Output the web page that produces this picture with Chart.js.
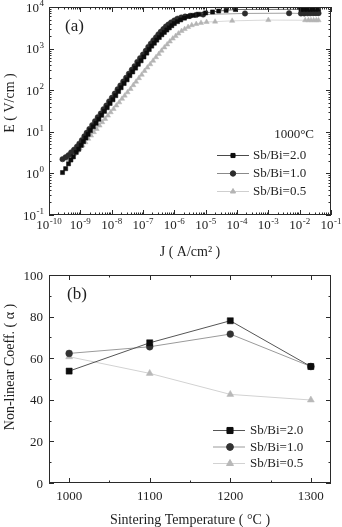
<!DOCTYPE html>
<html lang="en">
<head>
  <meta charset="UTF-8">
  <title>E-J and non-linear coefficient</title>
  <script src="https://cdn.jsdelivr.net/npm/chart.js"></script>
  <style>
    body { margin: 0; background: #fff; }
    #wrap { position: relative; width: 342px; height: 527px; }
    #chartA { position: absolute; left: 0; top: 0; }
    #chartB { position: absolute; left: 0; top: 262px; }
  </style>
</head>
<body>
<div id="wrap">
  <canvas id="chartA" width="342" height="262"></canvas>
  <canvas id="chartB" width="342" height="265"></canvas>
</div>

<script>
  // (a) E-J curves at 1000 C
  const j20 = [2.7e-10, 3.4e-10, 4.2e-10, 5.0e-10, 6.0e-10, 7.4e-10, 8.9e-10, 1.07e-9, 1.26e-9, 1.5e-9,
    1.78e-9, 2.1e-9, 2.6e-9, 3.2e-9, 3.9e-9, 4.8e-9, 5.9e-9, 7.2e-9, 8.9e-9, 1.1e-8,
    1.35e-8, 1.66e-8, 2.0e-8, 2.5e-8, 3.1e-8, 3.8e-8, 4.7e-8, 5.8e-8, 7.1e-8, 8.7e-8,
    1.07e-7, 1.32e-7, 1.58e-7, 1.9e-7, 2.3e-7, 2.75e-7, 3.3e-7, 4.0e-7, 4.8e-7, 5.75e-7,
    6.9e-7, 8.3e-7, 1.0e-6, 1.26e-6, 1.6e-6, 2.1e-6, 2.8e-6, 4.0e-6, 6.0e-6, 1.0e-5,
    1.66e-5, 2.6e-5, 4.5e-5, 8.9e-5, 1.1e-2, 1.4e-2, 1.8e-2, 2.2e-2, 2.7e-2, 3.3e-2, 4.0e-2];
  const e20 = [1.05, 1.3, 1.7, 2.1, 2.5, 3.2, 3.8, 4.7, 5.8, 7.1,
    8.7, 10.7, 13.2, 16, 20, 25, 31, 38, 48, 59,
    74, 93, 115, 145, 178, 224, 275, 340, 420, 510,
    630, 780, 950, 1150, 1350, 1600, 1850, 2150, 2450, 2800,
    3150, 3550, 4000, 4450, 4900, 5400, 5900, 6300, 6700, 7200,
    7600, 8000, 8300, 8700, 8800, 8800, 8850, 8850, 8900, 8900, 8900];

  const j10 = [2.7e-10, 3.4e-10, 4.2e-10, 5.1e-10, 6.3e-10, 7.8e-10, 9.3e-10, 1.12e-9, 1.35e-9, 1.6e-9,
    1.95e-9, 2.4e-9, 2.95e-9, 3.6e-9, 4.5e-9, 5.5e-9, 6.8e-9, 8.3e-9, 1.02e-8, 1.26e-8,
    1.55e-8, 1.9e-8, 2.35e-8, 2.9e-8, 3.55e-8, 4.4e-8, 5.4e-8, 6.6e-8, 8.1e-8, 1.0e-7,
    1.23e-7, 1.48e-7, 1.78e-7, 2.15e-7, 2.6e-7, 3.1e-7, 3.7e-7, 4.5e-7, 5.4e-7, 6.5e-7,
    7.9e-7, 1.0e-6, 1.26e-6, 1.66e-6, 2.2e-6, 3.2e-6, 5.0e-6, 8.3e-6, 1.8e-4, 4.6e-3,
    1.1e-2, 1.4e-2, 1.8e-2, 2.2e-2, 2.7e-2, 3.3e-2, 4.0e-2];
  const e10 = [2.2, 2.45, 2.75, 3.2, 3.7, 4.4, 5.2, 6.3, 7.8, 9.5,
    11.7, 14.5, 18, 22.4, 27.5, 35, 43, 54, 66, 83,
    105, 130, 162, 200, 250, 310, 380, 480, 590, 720,
    890, 1100, 1320, 1580, 1860, 2200, 2550, 2950, 3400, 3800,
    4250, 4750, 5250, 5600, 5900, 6150, 6450, 6600, 7000, 7100,
    7000, 7000, 7050, 7050, 7100, 7100, 7100];

  const j05 = [4.2e-10, 5.1e-10, 6.3e-10, 7.8e-10, 9.5e-10, 1.17e-9, 1.45e-9, 1.78e-9, 2.2e-9, 2.7e-9,
    3.3e-9, 4.1e-9, 5.0e-9, 6.2e-9, 7.6e-9, 9.3e-9, 1.15e-8, 1.41e-8, 1.74e-8, 2.14e-8,
    2.6e-8, 3.2e-8, 4.0e-8, 4.9e-8, 6.0e-8, 7.4e-8, 9.1e-8, 1.12e-7, 1.38e-7, 1.7e-7,
    2.1e-7, 2.6e-7, 3.2e-7, 3.9e-7, 4.8e-7, 5.9e-7, 7.2e-7, 8.9e-7, 1.1e-6, 1.35e-6,
    1.7e-6, 2.14e-6, 2.75e-6, 3.6e-6, 5.0e-6, 7.1e-6, 1.07e-5, 2.0e-5, 7.0e-5, 1.0e-3,
    1.5e-2, 1.9e-2, 2.3e-2, 2.8e-2, 3.4e-2, 4.0e-2];
  const e05 = [2.2, 2.5, 2.9, 3.4, 4.0, 4.7, 5.6, 6.8, 8.1, 9.8,
    11.7, 14.1, 17, 20.4, 24.5, 29.5, 35.5, 43, 51, 62,
    74, 89, 107, 132, 160, 195, 235, 290, 350, 420,
    510, 620, 740, 890, 1070, 1260, 1480, 1740, 2000, 2300,
    2650, 2950, 3300, 3650, 3900, 4150, 4350, 4450, 4650, 4850,
    4800, 4800, 4800, 4800, 4800, 4800];

  const xTickValues = [1e-10, 1e-9, 1e-8, 1e-7, 1e-6, 1e-5, 1e-4, 1e-3, 1e-2, 1e-1];
  const xTickLabels = ['10^-10', '10^-9', '10^-8', '10^-7', '10^-6', '10^-5', '10^-4', '10^-3', '10^-2', '10^-1'];
  const yTickValues = [1e-1, 1, 1e1, 1e2, 1e3, 1e4];
  const yTickLabels = ['10^-1', '10^0', '10^1', '10^2', '10^3', '10^4'];

  // (b) non-linear coefficient vs sintering temperature
  const temps = [1000, 1100, 1200, 1300];
  const tempLabels = ['1000', '1100', '1200', '1300'];
  const alphaTicks = [0, 20, 40, 60, 80, 100];
  const alphaLabels = ['0', '20', '40', '60', '80', '100'];
  const alpha20 = [53.8, 67.4, 78.0, 56.0];
  const alpha10 = [62.3, 65.5, 71.6, 56.0];
  const alpha05 = [60.7, 52.7, 42.6, 39.9];

  const seriesNames = ['Sb/Bi=2.0', 'Sb/Bi=1.0', 'Sb/Bi=0.5'];

  const serif = '"Liberation Serif", "Times New Roman", serif';
  const ink = '#1e1e1e';

  const pairs = (xs, ys) => xs.map((x, i) => ({x: x, y: ys[i]}));

  // inward ticks on all four sides plus the frame
  const framePlugin = {
    id: 'frame',
    afterDraw(chart, args, o) {
      const ctx = chart.ctx, a = chart.chartArea;
      const xs = chart.scales.x, ys = chart.scales.y;
      ctx.save();
      ctx.strokeStyle = '#2a2a2a';
      ctx.lineWidth = 1;
      ctx.strokeRect(Math.round(a.left) + 0.5, Math.round(a.top) + 0.5,
        Math.round(a.right - a.left) - 1, Math.round(a.bottom - a.top) - 1);
      ctx.beginPath();
      const hx = (v, len) => {
        const p = Math.round(xs.getPixelForValue(v)) + 0.5;
        ctx.moveTo(p, a.bottom); ctx.lineTo(p, a.bottom - len);
        ctx.moveTo(p, a.top); ctx.lineTo(p, a.top + len);
      };
      const vy = (v, len) => {
        const p = Math.round(ys.getPixelForValue(v)) + 0.5;
        ctx.moveTo(a.left, p); ctx.lineTo(a.left + len, p);
        ctx.moveTo(a.right, p); ctx.lineTo(a.right - len, p);
      };
      o.xMajor.forEach(v => hx(v, 5));
      o.xMinor.forEach(v => hx(v, 2.5));
      o.yMajor.forEach(v => vy(v, 5));
      o.yMinor.forEach(v => vy(v, 2.5));
      ctx.stroke();
      ctx.restore();
    }
  };

  // tick labels (with raised exponents) and axis titles
  const axisTextPlugin = {
    id: 'axisText',
    afterDraw(chart, args, o) {
      const ctx = chart.ctx, a = chart.chartArea;
      const xs = chart.scales.x, ys = chart.scales.y;
      const baseFont = o.size + 'px ' + serif;
      const expFont = Math.round(o.size * 0.68) + 'px ' + serif;
      const label = (txt, x, y, align) => {
        const parts = txt.split('^');
        ctx.font = baseFont;
        const wb = ctx.measureText(parts[0]).width;
        ctx.font = expFont;
        const we = parts[1] ? ctx.measureText(parts[1]).width + 0.5 : 0;
        const w = wb + we;
        const x0 = align === 'right' ? x - w : align === 'center' ? x - w / 2 : x;
        ctx.font = baseFont;
        ctx.fillText(parts[0], x0, y);
        if (parts[1]) {
          ctx.font = expFont;
          ctx.fillText(parts[1], x0 + wb + 0.5, y - o.size * 0.42);
        }
      };
      ctx.save();
      ctx.fillStyle = ink;
      ctx.textAlign = 'left';
      ctx.textBaseline = 'alphabetic';
      o.xTicks.forEach((v, i) => label(o.xLabels[i], xs.getPixelForValue(v), a.bottom + o.xGap, 'center'));
      o.yTicks.forEach((v, i) => label(o.yLabels[i], a.left - o.yGap, ys.getPixelForValue(v) + o.size * 0.35, 'right'));

      ctx.font = o.titleSize + 'px ' + serif;
      ctx.textAlign = 'center';
      ctx.textBaseline = 'middle';
      ctx.fillText(o.xTitle, (a.left + a.right) / 2, o.xTitleY);
      ctx.translate(o.yTitleX, o.yTitleY);
      ctx.rotate(-Math.PI / 2);
      ctx.fillText(o.yTitle, 0, 0);
      ctx.restore();
    }
  };

  // legend with a short line and marker, plus panel notes
  const notesPlugin = {
    id: 'notes',
    afterDraw(chart, args, o) {
      const ctx = chart.ctx;
      ctx.save();
      ctx.fillStyle = ink;
      ctx.textBaseline = 'middle';
      (o.texts || []).forEach(t => {
        ctx.font = t.font;
        ctx.textAlign = t.align || 'left';
        ctx.fillText(t.text, t.x, t.y);
      });
      chart.data.datasets.forEach((ds, i) => {
        const y = o.legendY + i * o.legendGap;
        ctx.strokeStyle = ds.borderColor;
        ctx.lineWidth = 1;
        ctx.beginPath();
        ctx.moveTo(o.lineX0, y + 0.5);
        ctx.lineTo(o.lineX1, y + 0.5);
        ctx.stroke();
        ctx.fillStyle = ds.pointBackgroundColor;
        ctx.strokeStyle = ds.pointBorderColor;
        Chart.helpers.drawPoint(ctx, {pointStyle: ds.pointStyle, radius: ds.pointRadius, rotation: 0, borderWidth: 1},
          o.markX, y + 0.5);
        ctx.fillStyle = ink;
        ctx.font = o.font;
        ctx.textAlign = 'left';
        ctx.fillText(ds.label, o.textX, y + 1);
      });
      ctx.restore();
    }
  };

  const logMinor = (lo, hi) => {
    const out = [];
    for (let d = lo; d < hi; d++) for (let k = 2; k <= 9; k++) out.push(k * Math.pow(10, d));
    return out;
  };

  const hiddenAxis = {grid: {display: false}, border: {display: false}, ticks: {display: false}, title: {display: false}};

  new Chart(document.getElementById('chartA'), {
    type: 'scatter',
    data: {
      datasets: [
        {label: seriesNames[0], data: pairs(j20, e20), showLine: true, borderColor: '#4a4a4a', borderWidth: 0.8,
          pointStyle: 'rect', pointRadius: 2.9, pointBackgroundColor: '#0d0d0d', pointBorderColor: '#0d0d0d', pointBorderWidth: 0.5},
        {label: seriesNames[1], data: pairs(j10, e10), showLine: true, borderColor: '#8a8a8a', borderWidth: 0.8,
          pointStyle: 'circle', pointRadius: 2.7, pointBackgroundColor: '#2c2c2c', pointBorderColor: '#2c2c2c', pointBorderWidth: 0.5},
        {label: seriesNames[2], data: pairs(j05, e05), showLine: true, borderColor: '#cfcfcf', borderWidth: 0.8,
          pointStyle: 'triangle', pointRadius: 3, pointBackgroundColor: '#b4b4b4', pointBorderColor: '#b4b4b4', pointBorderWidth: 0.5}
      ]
    },
    options: {
      responsive: false,
      animation: false,
      devicePixelRatio: 1,
      layout: {padding: {top: 7, right: 11, left: 0, bottom: 0}},
      plugins: {
        legend: {display: false},
        tooltip: {enabled: false},
        frame: {
          xMajor: xTickValues, xMinor: logMinor(-10, -1),
          yMajor: yTickValues, yMinor: logMinor(-1, 4)
        },
        axisText: {
          size: 13, titleSize: 14,
          xTicks: xTickValues, xLabels: xTickLabels, xGap: 14,
          yTicks: yTickValues, yLabels: yTickLabels, yGap: 5,
          xTitle: 'J ( A/cm² )', xTitleY: 252,
          yTitle: 'E ( V/cm )', yTitleX: 10, yTitleY: 103
        },
        notes: {
          texts: [
            {text: '(a)', x: 65, y: 27, font: '17px ' + serif},
            {text: '1000°C', x: 314, y: 135, font: '13px ' + serif, align: 'right'}
          ],
          legendY: 155, legendGap: 18, lineX0: 217, lineX1: 249, markX: 233, textX: 253,
          font: '13px ' + serif
        }
      },
      scales: {
        x: Object.assign({}, hiddenAxis, {
          type: 'logarithmic', min: 1e-10, max: 1e-1,
          afterFit: s => { s.height = 47; }
        }),
        y: Object.assign({}, hiddenAxis, {
          type: 'logarithmic', min: 1e-1, max: 1e4,
          afterFit: s => { s.width = 49; }
        })
      }
    },
    plugins: [framePlugin, axisTextPlugin, notesPlugin]
  });

  new Chart(document.getElementById('chartB'), {
    type: 'scatter',
    data: {
      datasets: [
        {label: seriesNames[0], data: pairs(temps, alpha20), showLine: true, borderColor: '#555555', borderWidth: 1,
          pointStyle: 'rect', pointRadius: 4.3, pointBackgroundColor: '#0d0d0d', pointBorderColor: '#0d0d0d', pointBorderWidth: 0.5},
        {label: seriesNames[1], data: pairs(temps, alpha10), showLine: true, borderColor: '#9a9a9a', borderWidth: 1,
          pointStyle: 'circle', pointRadius: 3.4, pointBackgroundColor: '#333333', pointBorderColor: '#333333', pointBorderWidth: 0.5},
        {label: seriesNames[2], data: pairs(temps, alpha05), showLine: true, borderColor: '#d2d2d2', borderWidth: 1,
          pointStyle: 'triangle', pointRadius: 4, pointBackgroundColor: '#b8b8b8', pointBorderColor: '#b8b8b8', pointBorderWidth: 0.5}
      ]
    },
    options: {
      responsive: false,
      animation: false,
      devicePixelRatio: 1,
      layout: {padding: {top: 13, right: 11, left: 0, bottom: 0}},
      plugins: {
        legend: {display: false},
        tooltip: {enabled: false},
        frame: {
          xMajor: temps, xMinor: [1050, 1150, 1250],
          yMajor: alphaTicks, yMinor: [10, 30, 50, 70, 90]
        },
        axisText: {
          size: 13, titleSize: 14,
          xTicks: temps, xLabels: tempLabels, xGap: 17,
          yTicks: alphaTicks, yLabels: alphaLabels, yGap: 6,
          xTitle: 'Sintering Temperature ( °C )', xTitleY: 258,
          yTitle: 'Non-linear Coeff. ( α )', yTitleX: 10, yTitleY: 105
        },
        notes: {
          texts: [{text: '(b)', x: 67, y: 33, font: '17px ' + serif}],
          legendY: 168, legendGap: 16.5, lineX0: 213, lineX1: 245, markX: 230, textX: 250,
          font: '13px ' + serif
        }
      },
      scales: {
        x: Object.assign({}, hiddenAxis, {
          type: 'linear', min: 975, max: 1325,
          afterFit: s => { s.height = 44; }
        }),
        y: Object.assign({}, hiddenAxis, {
          type: 'linear', min: 0, max: 100,
          afterFit: s => { s.width = 49; }
        })
      }
    },
    plugins: [framePlugin, axisTextPlugin, notesPlugin]
  });
</script>
</body>
</html>
